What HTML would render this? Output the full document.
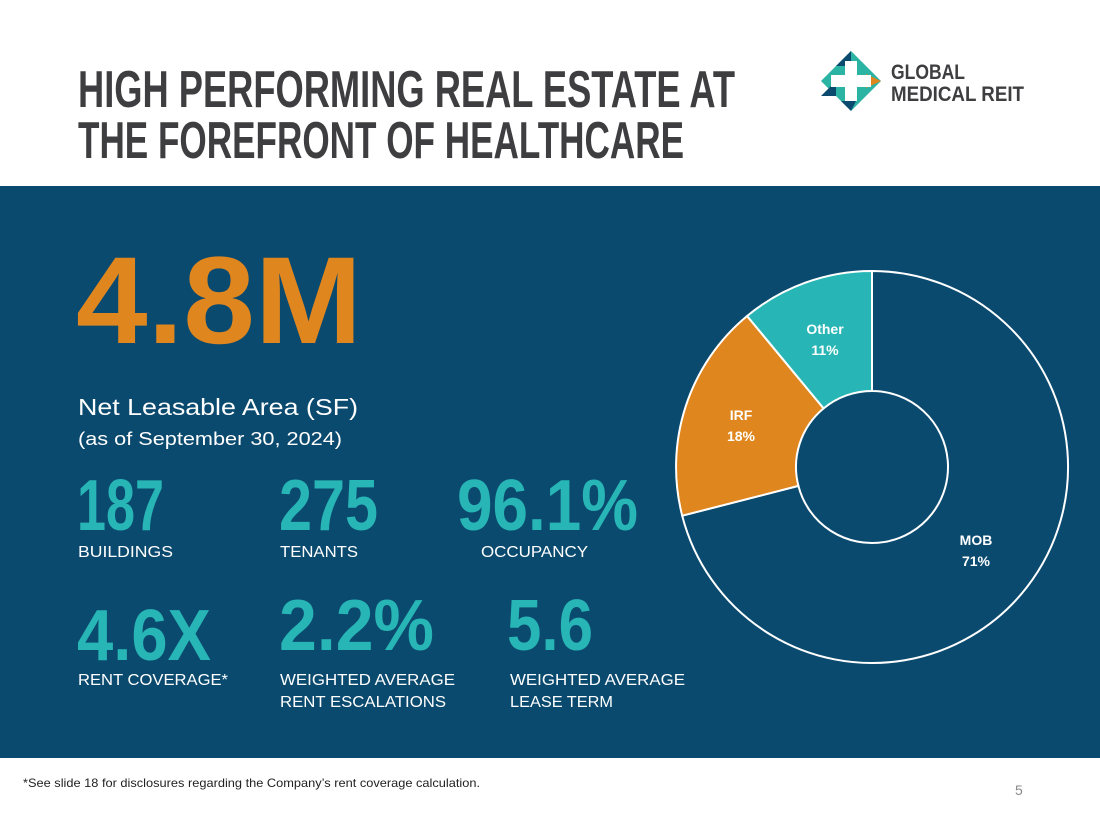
<!DOCTYPE html>
<html><head><meta charset="utf-8"><style>
html,body{margin:0;padding:0;background:#fff}
svg{display:block}
text{font-family:"Liberation Sans",sans-serif}
</style></head><body>
<svg width="1100" height="825" viewBox="0 0 1100 825" xmlns="http://www.w3.org/2000/svg">
<rect width="1100" height="825" fill="#fff"/>
<g font-weight="bold" fill="#3e3e40" font-size="52">
<text x="78" y="107" textLength="657" lengthAdjust="spacingAndGlyphs">HIGH PERFORMING REAL ESTATE AT</text>
<text x="78" y="158" textLength="606" lengthAdjust="spacingAndGlyphs">THE FOREFRONT OF HEALTHCARE</text>
</g>
<g transform="translate(851,81)">
<polygon points="0,-30 30,0 0,30 -30,0" fill="#2bb3a3"/>
<polygon points="0,-30 -15,-15 0,-15" fill="#0b4a6f"/>
<polygon points="-30,0 -15,-15 -15,0" fill="#0b4a6f" transform="translate(0,15)"/>
<polygon points="30,0 15,-7 15,7" fill="#e0861e"/>
<polygon points="0,30 -10,20 5,20" fill="#0b4a6f"/>
<rect x="-6" y="-20" width="12" height="40" fill="#fff"/>
<rect x="-20" y="-6" width="40" height="12" fill="#fff"/>
</g>
<g font-weight="bold" fill="#3e3e40" font-size="21">
<text x="891" y="79" textLength="74" lengthAdjust="spacingAndGlyphs">GLOBAL</text>
<text x="891" y="101" textLength="133" lengthAdjust="spacingAndGlyphs">MEDICAL REIT</text>
</g>
<rect x="0" y="186" width="1100" height="572" fill="#0b4a6f"/>
<text x="76" y="343" font-size="124" font-weight="bold" fill="#e0861e" textLength="286" lengthAdjust="spacingAndGlyphs">4.8M</text>
<text x="78" y="415" font-size="23" fill="#fff" textLength="280" lengthAdjust="spacingAndGlyphs">Net Leasable Area (SF)</text>
<text x="78" y="445" font-size="18" fill="#fff" textLength="264" lengthAdjust="spacingAndGlyphs">(as of September 30, 2024)</text>
<g font-size="72" font-weight="bold" fill="#27b5b5">
<text x="77" y="530" textLength="87" lengthAdjust="spacingAndGlyphs">187</text>
<text x="279" y="530" textLength="99" lengthAdjust="spacingAndGlyphs">275</text>
<text x="457" y="530" textLength="181" lengthAdjust="spacingAndGlyphs">96.1%</text>
<text x="77" y="660" textLength="134" lengthAdjust="spacingAndGlyphs">4.6X</text>
<text x="279" y="650" textLength="155" lengthAdjust="spacingAndGlyphs">2.2%</text>
<text x="507" y="650" textLength="86" lengthAdjust="spacingAndGlyphs">5.6</text>
</g>
<g font-size="16" fill="#fff">
<text x="78" y="557" textLength="95" lengthAdjust="spacingAndGlyphs">BUILDINGS</text>
<text x="280" y="557" textLength="78" lengthAdjust="spacingAndGlyphs">TENANTS</text>
<text x="481" y="557" textLength="107" lengthAdjust="spacingAndGlyphs">OCCUPANCY</text>
<text x="78" y="685" textLength="150" lengthAdjust="spacingAndGlyphs">RENT COVERAGE*</text>
<text x="280" y="685" textLength="175" lengthAdjust="spacingAndGlyphs">WEIGHTED AVERAGE</text>
<text x="280" y="707" textLength="166" lengthAdjust="spacingAndGlyphs">RENT ESCALATIONS</text>
<text x="510" y="685" textLength="175" lengthAdjust="spacingAndGlyphs">WEIGHTED AVERAGE</text>
<text x="510" y="707" textLength="103" lengthAdjust="spacingAndGlyphs">LEASE TERM</text>
</g>
<g stroke="#fff" stroke-width="2">
<path d="M872,271 A196,196 0 1 1 682.2,515.7 L798.4,485.9 A76,76 0 1 0 872,391 Z" fill="#0b4a6f"/>
<path d="M682.2,515.7 A196,196 0 0 1 747.1,316 L823.6,408.4 A76,76 0 0 0 798.4,485.9 Z" fill="#e0861e"/>
<path d="M747.1,316 A196,196 0 0 1 872,271 L872,391 A76,76 0 0 0 823.6,408.4 Z" fill="#27b5b5"/>
</g>
<g font-size="14" font-weight="bold" fill="#fff" text-anchor="middle">
<text x="825" y="334">Other</text><text x="825" y="355">11%</text>
<text x="741" y="420">IRF</text><text x="741" y="441">18%</text>
<text x="976" y="545">MOB</text><text x="976" y="566">71%</text>
</g>
<text x="23" y="787" font-size="12" fill="#222" textLength="457" lengthAdjust="spacingAndGlyphs">*See slide 18 for disclosures regarding the Company’s rent coverage calculation.</text>
<text x="1015" y="795" font-size="14" fill="#8a8a8a">5</text>
</svg>
</body></html>
